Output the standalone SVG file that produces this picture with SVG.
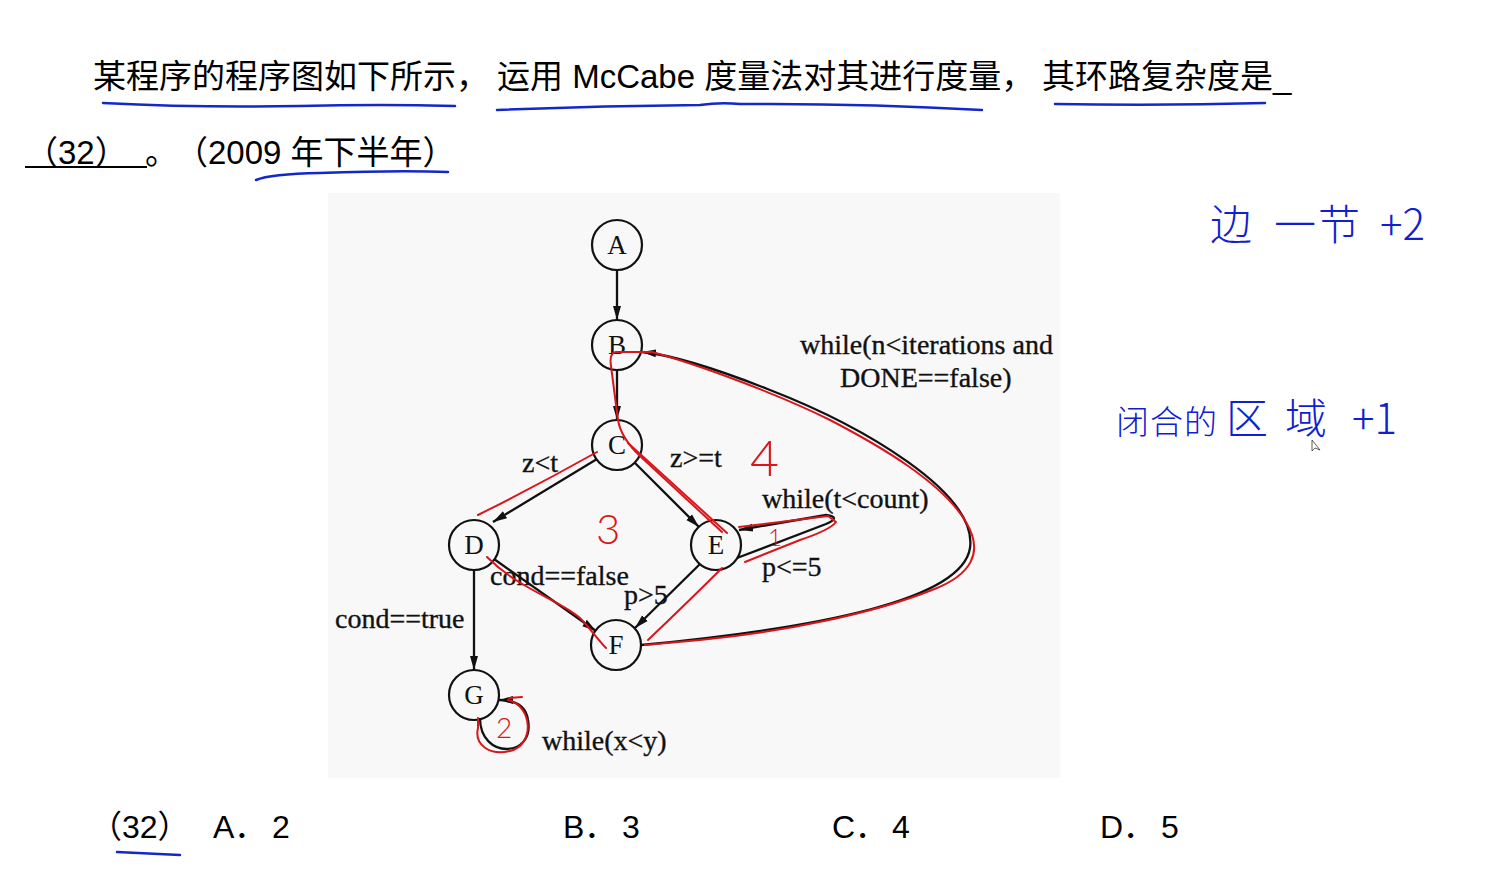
<svg xmlns="http://www.w3.org/2000/svg" width="1492" height="871" viewBox="0 0 1492 871">
<style>
.q{font-family:"Liberation Sans","Noto Sans CJK SC",sans-serif;font-size:33px;fill:#000}
.opt{font-family:"Liberation Sans","Noto Sans CJK SC",sans-serif;font-size:32px;fill:#000}
.nd{fill:none;stroke:#111;stroke-width:2.2}
.nl{font-family:"Liberation Serif",serif;font-size:27px;fill:#111;text-anchor:middle}
.lb{font-family:"Liberation Serif",serif;font-size:28px;fill:#111;stroke:#111;stroke-width:0.35}
.e{fill:none;stroke:#111;stroke-width:2.3}
.red{fill:none;stroke:#d8161b;stroke-width:2;stroke-linecap:round;stroke-linejoin:round}
.rt{font-family:"Lato","DejaVu Sans",sans-serif;fill:#d8161b;font-weight:300}
.blue{fill:none;stroke:#1428c8;stroke-width:2.5;stroke-linecap:round}
.hw{font-family:"Noto Sans CJK SC",sans-serif;fill:#1020d0;font-size:42px;font-weight:300}
</style>
<defs>
<marker id="ar" markerUnits="userSpaceOnUse" markerWidth="16" markerHeight="10" refX="14" refY="5" orient="auto">
<path d="M0,1 L14,5 L0,9 Z" fill="#111"/>
</marker>
</defs>
<rect width="1492" height="871" fill="#fff"/>
<rect x="328" y="193" width="732" height="585" fill="#f8f8f8"/>

<g id="question">
<text class="q" x="93" y="88">某程序的程序图如下所示，</text>
<text class="q" x="497" y="88">运用 McCabe 度量法对其进行度量，</text>
<text class="q" x="1042" y="88">其环路复杂度是_</text>
<text class="q" x="25" y="164">（32）</text>
<line x1="25" y1="167" x2="147" y2="167" stroke="#000" stroke-width="2"/>
<text class="q" x="145" y="164">。</text>
<text class="q" x="175" y="164">（2009 年下半年）</text>
</g>

<g id="options">
<text class="opt" x="90" y="838">（32）</text>
<text class="opt" x="213" y="838">A．<tspan x="272">2</tspan></text>
<text class="opt" x="563" y="838">B．<tspan x="622">3</tspan></text>
<text class="opt" x="832" y="838">C．<tspan x="892">4</tspan></text>
<text class="opt" x="1100" y="838">D．<tspan x="1161">5</tspan></text>
</g>

<g id="connectors">
<line class="e" x1="617" y1="270" x2="617" y2="320" marker-end="url(#ar)"/>
<line class="e" x1="617" y1="370" x2="617" y2="420" marker-end="url(#ar)"/>
<line class="e" x1="597" y1="459" x2="493" y2="522" marker-end="url(#ar)"/>
<line class="e" x1="635" y1="463" x2="699" y2="527" marker-end="url(#ar)"/>
<line class="e" x1="494" y1="559" x2="596" y2="631" marker-end="url(#ar)"/>
<line class="e" x1="700" y1="564" x2="635" y2="628" marker-end="url(#ar)"/>
<line class="e" x1="474" y1="570" x2="474" y2="670" marker-end="url(#ar)"/>
<path class="e" d="M737,558 L826,524 Q842,517 826,515 L739,530" marker-end="url(#ar)"/>
<path class="e" d="M641,645 C820,628 962,600 970,548 C978,492 860,425 770,390 C712,367 672,355 642,352" marker-end="url(#ar)"/>
<path class="e" d="M480,718 C480,760 535,758 528,720 C526,706 515,700 499,700" marker-end="url(#ar)"/>
<text class="lb" x="800" y="354">while(n&lt;iterations and</text>
<text class="lb" x="840" y="387">DONE==false)</text>
<text class="lb" x="522" y="472">z&lt;t</text>
<text class="lb" x="670" y="467">z&gt;=t</text>
<text class="lb" x="762" y="508">while(t&lt;count)</text>
<text class="lb" x="762" y="576">p&lt;=5</text>
<text class="lb" x="490" y="585">cond==false</text>
<text class="lb" x="624" y="604">p&gt;5</text>
<text class="lb" x="335" y="628">cond==true</text>
<text class="lb" x="542" y="750">while(x&lt;y)</text>
</g>

<g id="A"><circle class="nd" cx="617" cy="245" r="25"/><text class="nl" x="617" y="254">A</text></g>
<g id="B"><circle class="nd" cx="617" cy="345" r="25"/><text class="nl" x="617" y="354">B</text></g>
<g id="C"><circle class="nd" cx="617" cy="445" r="25"/><text class="nl" x="617" y="454">C</text></g>
<g id="D"><circle class="nd" cx="474" cy="545" r="25"/><text class="nl" x="474" y="554">D</text></g>
<g id="E"><circle class="nd" cx="716" cy="545" r="25"/><text class="nl" x="716" y="554">E</text></g>
<g id="F"><circle class="nd" cx="616" cy="645" r="25"/><text class="nl" x="616" y="654">F</text></g>
<g id="G"><circle class="nd" cx="474" cy="695" r="25"/><text class="nl" x="474" y="704">G</text></g>

<g id="red-annotations">
<path class="red" d="M722,532 L640,456 Q621,438 618,420 L611,366 Q609,353 616,352 L652,352 C700,365 780,395 830,420 C880,446 942,482 966,522 C984,552 972,575 932,590 C872,614 782,632 700,640 L645,645"/>
<path class="red" d="M628,443 L727,533"/>
<path class="red" d="M597,452 Q540,484 478,515"/>
<path class="red" d="M487,557 C520,590 560,600 580,618 C590,628 598,640 606,648"/>
<path class="red" d="M722,568 Q690,600 648,640"/>
<path class="red" d="M739,527 L828,516 L836,522 Q830,530 800,540 L745,562"/>
<path class="red" d="M508,700 C533,706 535,745 510,751 C490,756 474,745 478,728 L478,718"/>
<path class="red" d="M509,698 L522,697"/>
<text class="rt" x="750" y="476" font-size="50">4</text>
<text class="rt" x="596" y="544" font-size="42">3</text>
<text class="rt" x="768" y="546" font-size="24">1</text>
<text class="rt" x="496" y="738" font-size="28">2</text>
</g>

<g id="blue-annotations">
<path class="blue" d="M103,103 Q200,108 300,106 Q380,104 455,106"/>
<path class="blue" d="M497,110 Q600,106 700,105 Q720,102 740,104 Q860,103 982,110"/>
<path class="blue" d="M1055,104 Q1160,106 1265,103"/>
<path class="blue" d="M256,180 Q270,174 320,173 Q400,170 448,172"/>
<path class="blue" d="M117,852 L180,855"/>
<text class="hw" y="240"><tspan x="1210">边</tspan><tspan x="1274">一</tspan><tspan x="1318">节</tspan><tspan x="1380">+2</tspan></text>
<text class="hw" y="434"><tspan x="1116" font-size="33">闭</tspan><tspan x="1150" font-size="33">合</tspan><tspan x="1184" font-size="33">的</tspan><tspan x="1226">区</tspan><tspan x="1285">域</tspan><tspan x="1352">+1</tspan></text>
<path d="M1312,440 L1312,451 L1315,448 L1320,450 Z" fill="#fff" stroke="#333" stroke-width="0.8"/>
</g>
</svg>
